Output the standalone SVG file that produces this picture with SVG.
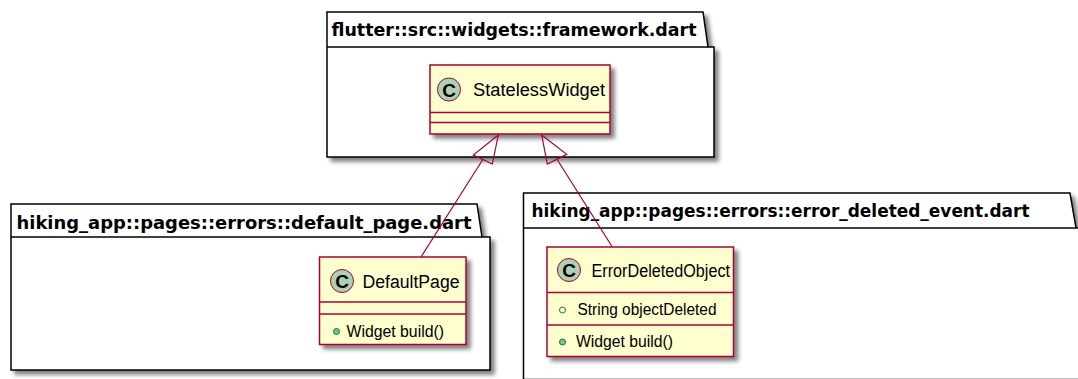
<svg xmlns="http://www.w3.org/2000/svg" width="1078" height="379" viewBox="0 0 1078 379">
<defs>
<filter id="sh" x="-10%" y="-10%" width="130%" height="130%">
<feGaussianBlur in="SourceAlpha" stdDeviation="2" result="b"/>
<feOffset in="b" dx="4" dy="4" result="o"/>
<feComponentTransfer in="o" result="c"><feFuncA type="linear" slope="0.5"/></feComponentTransfer>
<feMerge><feMergeNode in="c"/><feMergeNode in="SourceGraphic"/></feMerge>
</filter>
</defs>
<style>
.pkg{fill:#FFFFFF;stroke:#000000;stroke-width:1.5}
.ptitle{font-family:"DejaVu Sans",sans-serif;font-weight:bold;font-size:17px;fill:#000000}
.cls{fill:#FEFECE;stroke:#A80036;stroke-width:1.5}
.div{stroke:#A80036;stroke-width:1.5}
.circ{fill:#ADD1B2;stroke:#A80036;stroke-width:1}
.cl{font-family:"Liberation Sans",Arial,sans-serif;font-weight:bold;font-size:19px;fill:#000000;text-anchor:middle}
.cname{font-family:"Liberation Sans",Arial,sans-serif;font-size:18px;fill:#000000}
.mem{font-family:"Liberation Sans",Arial,sans-serif;font-size:16px;fill:#000000}
.vis{fill:#84BE84;stroke:#038048;stroke-width:1}
.visf{fill:none;stroke:#038048;stroke-width:1}
.edge{fill:none;stroke:#A80036;stroke-width:1.2}
.head{fill:none;stroke:#A80036;stroke-width:1.2}
</style>

<g id="pkg-framework">
<path class="pkg" filter="url(#sh)" d="M327,12 L703,12 L708,47 L714,47 L714,157 L327,157 Z"/>
<line x1="327" y1="47" x2="708" y2="47" stroke="#000" stroke-width="1.5"/>
<text class="ptitle" x="331.5" y="36" textLength="365" lengthAdjust="spacingAndGlyphs">flutter::src::widgets::framework.dart</text>
</g>

<g id="pkg-default-page">
<path class="pkg" filter="url(#sh)" d="M11,204 L477,204 L482,237 L490,237 L490,370 L11,370 Z"/>
<line x1="11" y1="237" x2="482" y2="237" stroke="#000" stroke-width="1.5"/>
<text class="ptitle" x="16.5" y="228.5" textLength="455" lengthAdjust="spacingAndGlyphs">hiking_app::pages::errors::default_page.dart</text>
</g>

<g id="pkg-error-deleted-event">
<path class="pkg" filter="url(#sh)" d="M523.5,193 L1070,193 L1076,228 L1090,228 L1090,379.5 L523.5,379.5 Z"/>
<line x1="523.5" y1="228" x2="1076" y2="228" stroke="#000" stroke-width="1.5"/>
<text class="ptitle" x="531.5" y="217" textLength="498" lengthAdjust="spacingAndGlyphs">hiking_app::pages::errors::error_deleted_event.dart</text>
</g>

<g id="StatelessWidget">
<rect class="cls" filter="url(#sh)" x="430" y="65" width="180" height="69"/>
<line class="div" x1="430" y1="112.5" x2="610" y2="112.5"/>
<line class="div" x1="430" y1="122.5" x2="610" y2="122.5"/>
<circle class="circ" cx="449" cy="89.5" r="11.5"/>
<text class="cl" x="449" y="96.5">C</text>
<text class="cname" x="473" y="95.5" textLength="132" lengthAdjust="spacingAndGlyphs">StatelessWidget</text>
</g>

<g id="DefaultPage">
<rect class="cls" filter="url(#sh)" x="319.5" y="257" width="146.5" height="87.5"/>
<line class="div" x1="319.5" y1="302" x2="466" y2="302"/>
<line class="div" x1="319.5" y1="314" x2="466" y2="314"/>
<circle class="circ" cx="342" cy="281" r="11.5"/>
<text class="cl" x="342" y="288">C</text>
<text class="cname" x="362.5" y="287.5" textLength="97" lengthAdjust="spacingAndGlyphs">DefaultPage</text>
<circle class="vis" cx="336.5" cy="331.5" r="3"/>
<text class="mem" x="346.5" y="337" textLength="97.5" lengthAdjust="spacingAndGlyphs">Widget build()</text>
</g>

<g id="ErrorDeletedObject">
<rect class="cls" filter="url(#sh)" x="547" y="247" width="186.5" height="109.5"/>
<line class="div" x1="547" y1="292.5" x2="733.5" y2="292.5"/>
<line class="div" x1="547" y1="325" x2="733.5" y2="325"/>
<circle class="circ" cx="569" cy="270" r="11.5"/>
<text class="cl" x="569" y="277">C</text>
<text class="cname" x="591.5" y="277" textLength="138.5" lengthAdjust="spacingAndGlyphs">ErrorDeletedObject</text>
<circle class="visf" cx="562.5" cy="310" r="3"/>
<text class="mem" x="577.5" y="315" textLength="139" lengthAdjust="spacingAndGlyphs">String objectDeleted</text>
<circle class="vis" cx="562.5" cy="342" r="3"/>
<text class="mem" x="576" y="347" textLength="97" lengthAdjust="spacingAndGlyphs">Widget build()</text>
</g>

<g id="connectors">
<line class="edge" x1="482.8" y1="159.5" x2="421" y2="257"/>
<polygon class="head" points="498.3,135 473.3,155 492.3,164"/>
<line class="edge" x1="557" y1="159.2" x2="612.3" y2="247"/>
<polygon class="head" points="541.7,135 547.3,164 566.7,154.3"/>
</g>
</svg>
